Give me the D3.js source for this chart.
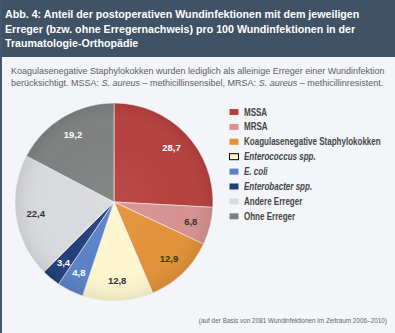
<!DOCTYPE html>
<html><head><meta charset="utf-8">
<script src="https://cdn.jsdelivr.net/npm/d3@7"></script>
<style>html,body{margin:0;padding:0;background:#f3f5f8;}svg{display:block;}</style>
</head><body>
<script>
const categories = ["MSSA","MRSA","Koagulasenegative Staphylokokken","Enterococcus spp.","E. coli","Enterobacter spp.","Andere Erreger","Ohne Erreger"];
const values = [28.7, 6.8, 12.9, 12.8, 4.8, 3.4, 22.4, 19.2];
const italicCats = ["Enterococcus spp.","E. coli","Enterobacter spp."];
const colors = ["#b6403e","#d6918f","#e29138","#fdf6cf","#5a82c6","#233f7b","#d9dadd","#7f8080"];
const labelColors = ["#ffffff","#333333","#333333","#333333","#ffffff","#ffffff","#333333","#ffffff"];
const titleLines = ["Abb. 4: Anteil der postoperativen Wundinfektionen mit dem jeweiligen","Erreger (bzw. ohne Erregernachweis) pro 100 Wundinfektionen in der","Traumatologie-Orthopädie"];

const W = 395, H = 333;
const svg = d3.select("body").append("svg").attr("width", W).attr("height", H);
svg.append("rect").attr("width", W).attr("height", H).attr("fill", "#f3f5f8");
svg.append("rect").attr("width", W).attr("height", 57).attr("fill", "#3f5266");
svg.append("rect").attr("x", 0).attr("y", 0).attr("width", 2).attr("height", H).attr("fill", "#45576a");

const condensed = "'Liberation Sans Narrow','DejaVu Sans Condensed','Arial Narrow',sans-serif";
const sans = "'Liberation Sans',Arial,sans-serif";

// title: condensed by horizontal scaling
const titleG = svg.append("g");
const tt = titleG.selectAll("text.title").data(titleLines).join("text").attr("class","title")
  .attr("x", 0).attr("y", (d,i) => 18 + i*14.6)
  .attr("fill", "#ffffff").attr("font-family", sans).attr("font-weight", "bold").attr("font-size", 11.5)
  .text(d => d);
const tw = tt.node().getComputedTextLength();
const tk = 355 / tw;
titleG.attr("transform", `translate(5,0) scale(${tk},1)`);

const sub = svg.append("g").attr("font-family", sans).attr("font-size", 9).attr("fill", "#606060");
sub.append("text").attr("x", 11).attr("y", 74).text("Koagulasenegative Staphylokokken wurden lediglich als alleinige Erreger einer Wundinfektion");
const s2 = sub.append("text").attr("x", 11).attr("y", 85.5);
s2.append("tspan").text("berücksichtigt. MSSA: ");
s2.append("tspan").attr("font-style","italic").text("S. aureus");
s2.append("tspan").text(" – methicillinsensibel, MRSA: ");
s2.append("tspan").attr("font-style","italic").text("S. aureus");
s2.append("tspan").text(" – methicillinresistent.");

const cx = 114, cy = 202, R = 99;
const pie = d3.pie().sort(null).value(d => d)(values);
const arc = d3.arc().innerRadius(0).outerRadius(R);
const labelArc = d3.arc().innerRadius(R*0.8).outerRadius(R*0.8);
const defs = svg.append("defs");
const rg = defs.append("radialGradient").attr("id","shade");
rg.append("stop").attr("offset","0%").attr("stop-color","#fff").attr("stop-opacity",0.06);
rg.append("stop").attr("offset","70%").attr("stop-color","#fff").attr("stop-opacity",0);
rg.append("stop").attr("offset","100%").attr("stop-color","#000").attr("stop-opacity",0.08);
const g = svg.append("g").attr("transform", `translate(${cx},${cy})`);
g.selectAll("path").data(pie).join("path")
  .attr("d", arc).attr("fill", (d,i) => colors[i])
  .attr("stroke", "#f3f5f8").attr("stroke-width", 0.6);
g.append("circle").attr("r", R).attr("fill", "url(#shade)").attr("pointer-events","none");
const fmt = v => String(v).replace(".", ",");
g.selectAll("text").data(pie).join("text")
  .attr("transform", d => `translate(${labelArc.centroid(d)})`)
  .attr("text-anchor", "middle").attr("dy", "0.35em")
  .attr("font-family", sans).attr("font-weight", "bold").attr("font-size", 9.5)
  .attr("fill", (d,i) => labelColors[i])
  .text(d => fmt(d.data));

const leg = svg.append("g").attr("transform", "translate(229,112)");
const rows = leg.selectAll("g").data(categories).join("g").attr("transform", (d,i) => `translate(0,${i*14.9})`);
rows.append("rect").attr("x", 0.5).attr("y", -3).attr("width", 9).attr("height", 6)
  .attr("fill", (d,i) => colors[i])
  .attr("stroke", (d,i) => i === 3 ? "#000" : "none").attr("stroke-width", 1);
const lt = rows.append("g").attr("transform", "translate(15,0)").append("text")
  .attr("dy", "0.35em")
  .attr("font-family", sans).attr("font-weight", "bold").attr("font-size", 10)
  .attr("font-style", d => italicCats.includes(d) ? "italic" : "normal")
  .attr("fill", "#454545").text(d => d);
const lw = lt.filter((d,i) => i === 2).node().getComputedTextLength();
const lk = 137 / lw;
lt.attr("transform", `scale(${lk},1)`);

svg.append("text").attr("x", 387).attr("y", 323).attr("text-anchor", "end")
  .attr("font-family", sans).attr("font-size", 6.4).attr("fill", "#666")
  .text("(auf der Basis von 2081 Wundinfektionen im Zeitraum 2006–2010)");
</script>
</body></html>
